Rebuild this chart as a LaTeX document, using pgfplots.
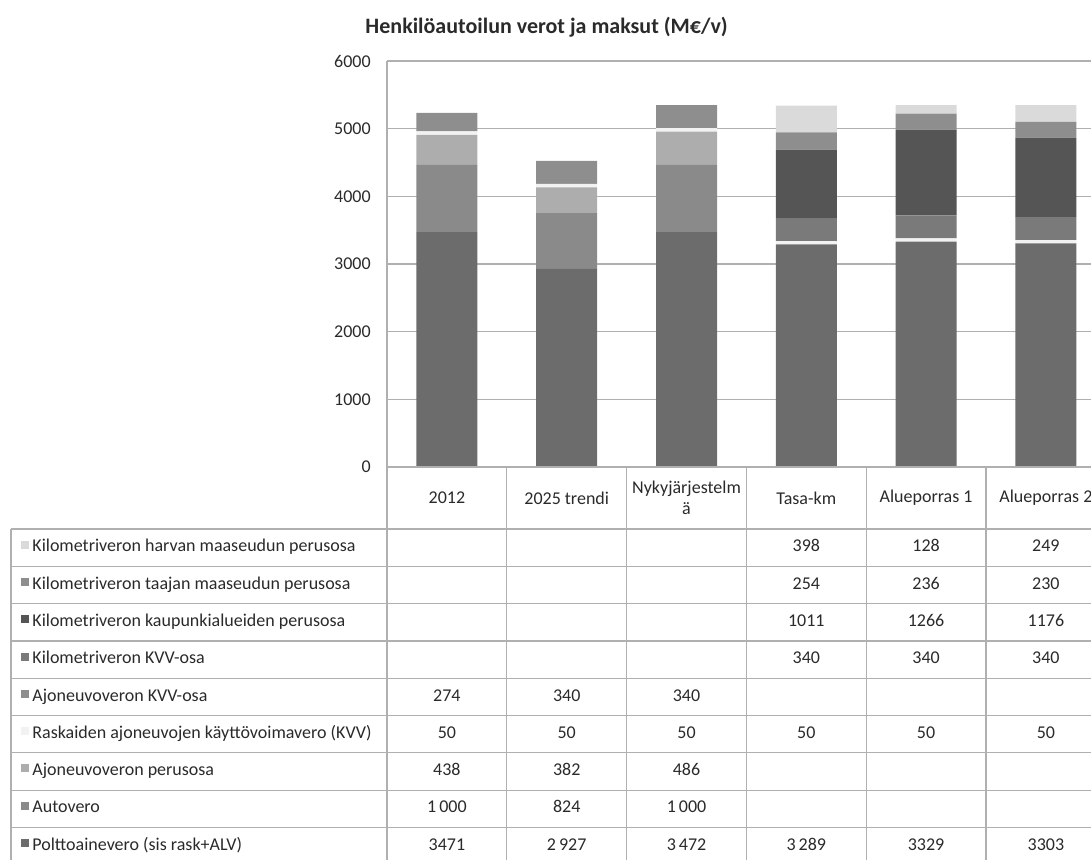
\documentclass[border=0pt]{standalone}
\usepackage{pgfplots}
\usepackage{pgfplotstable}
\pgfplotsset{compat=1.18}
\usepackage{fontspec}
\setmainfont{Carlito}

\definecolor{cpolt}{HTML}{6C6C6C}
\definecolor{cauto}{HTML}{8A8A8A}
\definecolor{cperu}{HTML}{ADADAD}
\definecolor{crask}{HTML}{F2F2F2}
\definecolor{cakvv}{HTML}{8E8E8E}
\definecolor{ckkvv}{HTML}{7A7A7A}
\definecolor{ckaup}{HTML}{555555}
\definecolor{ctaaj}{HTML}{8E8E8E}
\definecolor{charv}{HTML}{DADADA}
\definecolor{gridgray}{HTML}{B0B0B0}
\definecolor{txt}{HTML}{2A2A2A}

% M€/v per scenario, bottom segment first
\pgfplotstableread{
cat polt auto peru rask akvv kkvv kaup taaj harv
0   3471 1000 438  50   274  0    0    0    0
1   2927 824  382  50   340  0    0    0    0
2   3472 1000 486  50   340  0    0    0    0
3   3289 0    0    50   0    340  1011 254  398
4   3329 0    0    50   0    340  1266 236  128
5   3303 0    0    50   0    340  1176 230  249
}\datatable

\newcommand{\tabfont}{\fontsize{9}{10.5}\selectfont}

\begin{document}
\begin{tikzpicture}
\useasboundingbox (0,0) rectangle (545.5pt,429.5pt);
\clip (0,0) rectangle (545.5pt,429.5pt);

\begin{axis}[
  at={(193.5pt,196pt)}, anchor=south west,
  scale only axis, width=359.4pt, height=203pt,
  xmin=-0.5, xmax=5.5, ymin=0, ymax=6000,
  ybar stacked, bar width=30.5pt,
  axis x line=none,
  axis y line=left,
  y axis line style={-, draw=gridgray, line width=0.6pt},
  ytick={0,1000,...,6000},
  ytick style={draw=none},
  ymajorgrids,
  grid style={gridgray, line width=0.6pt},
  /pgf/number format/assume math mode=true,
  /pgf/number format/1000 sep={},
  yticklabel style={font=\tabfont, text=txt, anchor=east, xshift=-2.5pt},
]
\addplot[fill=cpolt, draw=none] table[x=cat, y=polt]{\datatable};
\addplot[fill=cauto, draw=none] table[x=cat, y=auto]{\datatable};
\addplot[fill=cperu, draw=none] table[x=cat, y=peru]{\datatable};
\addplot[fill=crask, draw=none] table[x=cat, y=rask]{\datatable};
\addplot[fill=cakvv, draw=none] table[x=cat, y=akvv]{\datatable};
\addplot[fill=ckkvv, draw=none] table[x=cat, y=kkvv]{\datatable};
\addplot[fill=ckaup, draw=none] table[x=cat, y=kaup]{\datatable};
\addplot[fill=ctaaj, draw=none] table[x=cat, y=taaj]{\datatable};
\addplot[fill=charv, draw=none] table[x=cat, y=harv]{\datatable};
\end{axis}

% title
\node[font=\fontsize{11}{13}\selectfont\bfseries, text=txt] at (273.3pt,415.7pt)
  {Henkilöautoilun verot ja maksut (M€/v)};

% data table under the plot (0.5pt units, measured downwards from the top edge)
\begin{scope}[shift={(0pt,429.5pt)}, x=0.5pt, y=-0.5pt]
  \def\rh{37.3}
  \def\cw{119.8}
  \draw[gridgray, line width=0.6pt] (387,467) -- (1200,467);
  \foreach \k in {0,...,9}
    \draw[gridgray, line width=0.6pt] (11,529+\k*\rh) -- (1200,529+\k*\rh);
  \draw[gridgray, line width=0.6pt] (11,529) -- (11,900);
  \foreach \k in {0,...,6}
    \draw[gridgray, line width=0.6pt] (387+\k*\cw,467) -- (387+\k*\cw,900);
  % column headers
  \foreach \lab [count=\i from 0] in {2012,2025 trendi,{Nykyjärjestelm\\ä},Tasa-km,Alueporras 1,Alueporras 2}
    \node[font=\tabfont, text=txt, align=center, inner sep=0pt] at (387+\i*\cw+0.5*\cw,498) {\lab};
  % one row per series
  \foreach \lab/\col/\va/\vb/\vc/\vd/\ve/\vf [count=\r from 0] in {
    Kilometriveron harvan maaseudun perusosa/charv/{}/{}/{}/398/128/249,
    Kilometriveron taajan maaseudun perusosa/ctaaj/{}/{}/{}/254/236/230,
    Kilometriveron kaupunkialueiden perusosa/ckaup/{}/{}/{}/1011/1266/1176,
    Kilometriveron KVV-osa/ckkvv/{}/{}/{}/340/340/340,
    Ajoneuvoveron KVV-osa/cakvv/274/340/340/{}/{}/{},
    Raskaiden ajoneuvojen käyttövoimavero (KVV)/crask/50/50/50/50/50/50,
    Ajoneuvoveron perusosa/cperu/438/382/486/{}/{}/{},
    Autovero/cauto/1\,000/824/1\,000/{}/{}/{},
    Polttoainevero (sis rask+ALV)/cpolt/3471/2\,927/3\,472/3\,289/3329/3303}
  {
    \pgfmathsetmacro{\yc}{529+(\r+0.5)*\rh}
    \fill[\col] (20.5,\yc-7) rectangle (28.5,\yc+1);
    \node[font=\tabfont, text=txt, anchor=west, inner sep=0pt] at (32,\yc) {\strut\lab};
    \node[font=\tabfont, text=txt, inner sep=0pt] at (387+0.5*\cw,\yc) {\strut\va};
    \node[font=\tabfont, text=txt, inner sep=0pt] at (387+1.5*\cw,\yc) {\strut\vb};
    \node[font=\tabfont, text=txt, inner sep=0pt] at (387+2.5*\cw,\yc) {\strut\vc};
    \node[font=\tabfont, text=txt, inner sep=0pt] at (387+3.5*\cw,\yc) {\strut\vd};
    \node[font=\tabfont, text=txt, inner sep=0pt] at (387+4.5*\cw,\yc) {\strut\ve};
    \node[font=\tabfont, text=txt, inner sep=0pt] at (387+5.5*\cw,\yc) {\strut\vf};
  }
\end{scope}
\end{tikzpicture}
\end{document}
